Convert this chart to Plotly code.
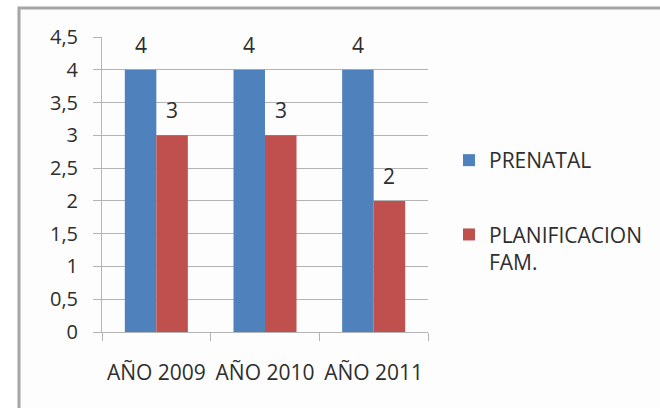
import plotly.graph_objects as go

categories = ["AÑO 2009", "AÑO 2010", "AÑO 2011"]
prenatal = [4, 4, 4]
planificacion = [3, 3, 2]
series_names = ["PRENATAL", "PLANIFICACION<br>FAM."]
tick_vals = [0, 0.5, 1, 1.5, 2, 2.5, 3, 3.5, 4, 4.5]
tick_text = ["0", "0,5", "1", "1,5", "2", "2,5", "3", "3,5", "4", "4,5"]

BLUE = "#4f81bd"
RED = "#c0504d"
TXT = "#2e2e2e"
GRID = "#b4b4b4"
FONT = "Open Sans"
FS = 21

W, H = 660, 408
ML, MR, MT, MB = 102, 232, 37, 76
PW, PH = W - ML - MR, H - MT - MB

fig = go.Figure()
fig.add_trace(go.Bar(x=categories, y=prenatal, name=series_names[0],
                     marker=dict(color=BLUE, line=dict(width=0)), legendgroup="a"))
fig.add_trace(go.Bar(x=categories, y=planificacion, name=series_names[1],
                     marker=dict(color=RED, line=dict(width=0)), legendgroup="b"))

bargap = 0.42
half = (1 - bargap) * PW / len(categories) / 4
for vals, sh in ((prenatal, -half), (planificacion, half)):
    for c, v in zip(categories, vals):
        fig.add_annotation(x=c, y=v, xref="x", yref="y", text=str(v), showarrow=False,
                           xshift=sh, yshift=9, yanchor="bottom",
                           font=dict(family=FONT, size=FS, color=TXT))

def px_x(p):
    return (p - ML) / PW

def px_y(p):
    return (H - MB - p) / PH

# chart frame
fig.add_shape(type="rect", xref="paper", yref="paper",
              x0=px_x(19), x1=px_x(700), y0=px_y(440), y1=px_y(8),
              line=dict(color="#a6a6a6", width=3), fillcolor="#fdfdfd", layer="below")

fig.update_layout(
    width=W, height=H,
    margin=dict(l=ML, r=MR, t=MT, b=MB, pad=0),
    paper_bgcolor="white", plot_bgcolor="rgba(0,0,0,0)",
    barmode="group", bargap=bargap, bargroupgap=0,
    font=dict(family=FONT, size=FS, color=TXT),
    showlegend=True,
    legend=dict(x=px_x(449), y=px_y(140), xanchor="left", yanchor="top",
                valign="top", tracegroupgap=44, traceorder="grouped",
                font=dict(family=FONT, size=FS, color=TXT),
                bgcolor="rgba(0,0,0,0)"),
    xaxis=dict(type="category", showline=True, linecolor=GRID, linewidth=1,
               ticks="outside", tickson="boundaries", ticklen=8, tickcolor=GRID,
               showgrid=False, ticklabelstandoff=22,
               tickfont=dict(family=FONT, size=FS, color=TXT)),
    yaxis=dict(range=[0, 4.5], tickvals=tick_vals, ticktext=tick_text,
               showline=True, linecolor=GRID, linewidth=1,
               ticks="outside", ticklen=8, tickcolor=GRID,
               showgrid=True, gridcolor=GRID, gridwidth=1, zeroline=False,
               ticklabelstandoff=11,
               tickfont=dict(family=FONT, size=20, color=TXT)),
)

fig.write_html("out.html")
